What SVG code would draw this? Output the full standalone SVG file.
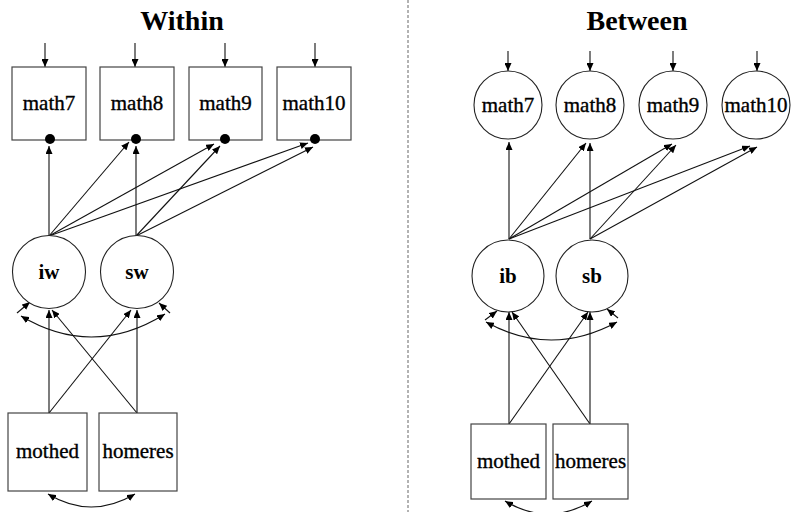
<svg xmlns="http://www.w3.org/2000/svg" width="791" height="512" viewBox="0 0 791 512">
<style>
.title{font-family:"Liberation Serif","Times New Roman",serif;font-size:28px;font-weight:bold;text-anchor:middle;fill:#000}
.lbl{font-family:"Liberation Serif","Times New Roman",serif;font-size:21px;text-anchor:middle;fill:#000;stroke:#000;stroke-width:0.35}
.lat{font-family:"Liberation Serif","Times New Roman",serif;font-size:21px;font-weight:bold;text-anchor:middle;fill:#000}
.box{fill:#fff;stroke:#444;stroke-width:1.2}
.circ{fill:#fff;stroke:#222;stroke-width:1.1}
.ln{fill:none;stroke:#111;stroke-width:1.1;marker-end:url(#ah)}
.cv{fill:none;stroke:#111;stroke-width:1.1;marker-start:url(#ah);marker-end:url(#ah)}
.dot{fill:#000}
</style>
<defs>
<marker id="ah" markerUnits="userSpaceOnUse" markerWidth="9" markerHeight="7" refX="8" refY="3.5" orient="auto-start-reverse">
<path d="M0,0 L8,3.5 L0,7 Z" fill="#000"/>
</marker>
</defs>
<rect width="791" height="512" fill="#fff"/>
<line x1="408" y1="0" x2="408" y2="512" stroke="#666" stroke-width="1" stroke-dasharray="3,2"/>
<text class="title" x="182" y="30">Within</text>
<text class="title" x="637" y="30">Between</text>

<g id="connectors">
<line class="ln" x1="45" y1="43" x2="45" y2="67"/>
<line class="ln" x1="135" y1="43" x2="135" y2="67"/>
<line class="ln" x1="225" y1="43" x2="225" y2="67"/>
<line class="ln" x1="315" y1="43" x2="315" y2="67"/>
<line class="ln" x1="49" y1="236" x2="49" y2="146"/>
<line class="ln" x1="49" y1="236" x2="129" y2="142"/>
<line class="ln" x1="49" y1="236" x2="214" y2="144"/>
<line class="ln" x1="49" y1="236" x2="308" y2="143"/>
<line class="ln" x1="136" y1="236" x2="136" y2="146"/>
<line class="ln" x1="136" y1="236" x2="220" y2="146"/>
<line class="ln" x1="136" y1="236" x2="313" y2="147"/>
<line class="ln" x1="49" y1="413" x2="49" y2="310"/>
<line class="ln" x1="49" y1="413" x2="131" y2="310"/>
<line class="ln" x1="137" y1="413" x2="137" y2="310"/>
<line class="ln" x1="137" y1="413" x2="52" y2="310"/>
<line class="ln" x1="17" y1="313" x2="30" y2="302"/>
<line class="ln" x1="170" y1="313" x2="159" y2="303"/>
<path class="cv" d="M21,316 Q93,359 165,314"/>
<path class="cv" d="M48,494 Q91,520 135,494"/>

<line class="ln" x1="508" y1="51" x2="508" y2="71"/>
<line class="ln" x1="590" y1="51" x2="590" y2="71"/>
<line class="ln" x1="673" y1="51" x2="673" y2="71"/>
<line class="ln" x1="757" y1="51" x2="757" y2="71"/>
<line class="ln" x1="509" y1="239" x2="509" y2="142"/>
<line class="ln" x1="509" y1="239" x2="586" y2="143"/>
<line class="ln" x1="509" y1="239" x2="672" y2="144"/>
<line class="ln" x1="509" y1="239" x2="750" y2="146"/>
<line class="ln" x1="590" y1="239" x2="590" y2="143"/>
<line class="ln" x1="590" y1="239" x2="676" y2="145"/>
<line class="ln" x1="590" y1="239" x2="757" y2="147"/>
<line class="ln" x1="509" y1="424" x2="509" y2="312"/>
<line class="ln" x1="509" y1="424" x2="588" y2="312"/>
<line class="ln" x1="590" y1="424" x2="590" y2="312"/>
<line class="ln" x1="590" y1="424" x2="512" y2="312"/>
<line class="ln" x1="485" y1="320" x2="497" y2="311"/>
<line class="ln" x1="618" y1="318" x2="607" y2="309"/>
<path class="cv" d="M486,322 Q551,358 617,322"/>
<path class="cv" d="M505,501 Q548,527 592,501"/>
</g>

<g id="w_math7"><rect class="box" x="12" y="67" width="74" height="73"/><text class="lbl" x="49" y="110">math7</text><circle class="dot" cx="50" cy="139" r="5"/></g>
<g id="w_math8"><rect class="box" x="100" y="67" width="74" height="73"/><text class="lbl" x="137" y="110">math8</text><circle class="dot" cx="136" cy="139" r="5"/></g>
<g id="w_math9"><rect class="box" x="189" y="67" width="73" height="73"/><text class="lbl" x="225.5" y="110">math9</text><circle class="dot" cx="225" cy="139" r="5"/></g>
<g id="w_math10"><rect class="box" x="277" y="67" width="74" height="73"/><text class="lbl" x="314" y="110">math10</text><circle class="dot" cx="315" cy="139" r="5"/></g>
<g id="w_iw"><circle class="circ" cx="49" cy="272" r="36.5"/><text class="lat" x="49" y="279">iw</text></g>
<g id="w_sw"><circle class="circ" cx="137" cy="272" r="36.5"/><text class="lat" x="137" y="279">sw</text></g>
<g id="w_mothed"><rect class="box" x="8" y="413" width="79" height="78"/><text class="lbl" x="47.5" y="458">mothed</text></g>
<g id="w_homeres"><rect class="box" x="99" y="413" width="78" height="78"/><text class="lbl" x="138" y="458">homeres</text></g>

<g id="b_math7"><circle class="circ" cx="508" cy="105" r="34"/><text class="lbl" x="508" y="112">math7</text></g>
<g id="b_math8"><circle class="circ" cx="590" cy="105" r="34"/><text class="lbl" x="590" y="112">math8</text></g>
<g id="b_math9"><circle class="circ" cx="673" cy="105" r="34"/><text class="lbl" x="673" y="112">math9</text></g>
<g id="b_math10"><circle class="circ" cx="756" cy="105" r="34"/><text class="lbl" x="756" y="112">math10</text></g>
<g id="b_ib"><circle class="circ" cx="508" cy="276" r="36"/><text class="lat" x="508" y="283">ib</text></g>
<g id="b_sb"><circle class="circ" cx="592" cy="276" r="36"/><text class="lat" x="592" y="283">sb</text></g>
<g id="b_mothed"><rect class="box" x="471" y="424" width="75" height="75"/><text class="lbl" x="508.5" y="468">mothed</text></g>
<g id="b_homeres"><rect class="box" x="553" y="424" width="75" height="75"/><text class="lbl" x="590.5" y="468">homeres</text></g>
</svg>
